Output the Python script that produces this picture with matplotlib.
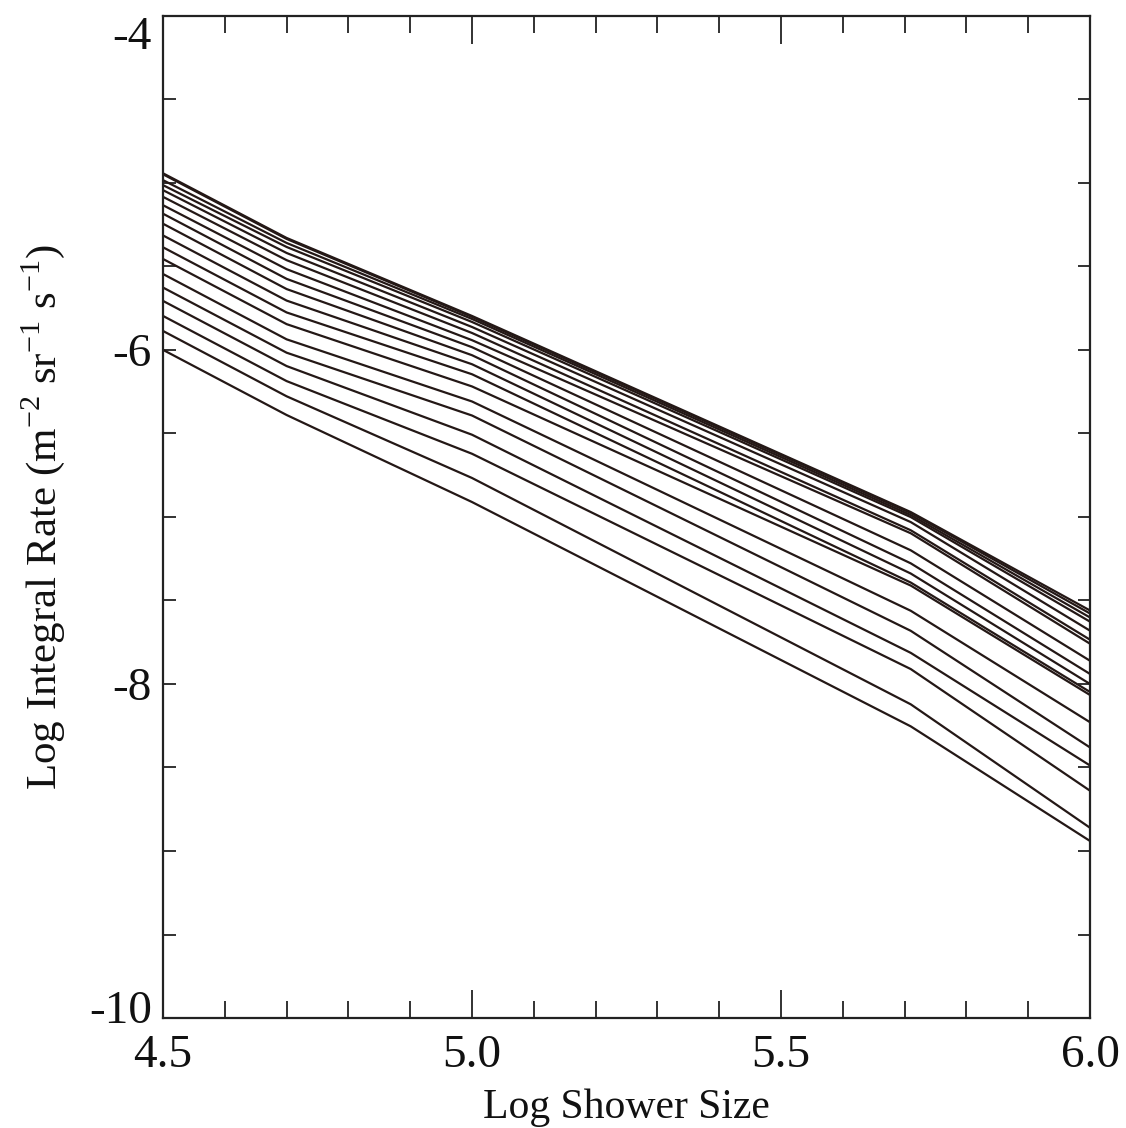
import numpy as np
import matplotlib
matplotlib.use("Agg")
import matplotlib.pyplot as plt
import matplotlib.transforms as mtransforms
from matplotlib.ticker import MultipleLocator

plt.rcParams['font.family'] = ['Liberation Serif', 'DejaVu Serif']
plt.rcParams['mathtext.fontset'] = 'custom'
plt.rcParams['mathtext.rm'] = 'Liberation Serif'
plt.rcParams['axes.unicode_minus'] = False

# knots of the piecewise curves (log shower size)
log_size = [4.5, 4.7, 5.0, 5.71, 6.0]

# log integral rate of each curve at the knots, top to bottom
rates = [
    [-4.943, -5.330, -5.797, -6.971, -7.560],
    [-4.949, -5.336, -5.803, -6.977, -7.578],
    [-4.984, -5.360, -5.815, -6.989, -7.602],
    [-5.014, -5.384, -5.833, -7.001, -7.627],
    [-5.044, -5.420, -5.863, -7.031, -7.681],
    [-5.084, -5.463, -5.899, -7.080, -7.735],
    [-5.134, -5.517, -5.942, -7.098, -7.759],
    [-5.185, -5.575, -5.984, -7.200, -7.861],
    [-5.245, -5.636, -6.032, -7.278, -7.940],
    [-5.315, -5.705, -6.086, -7.339, -8.000],
    [-5.386, -5.776, -6.146, -7.393, -8.048],
    [-5.456, -5.846, -6.219, -7.411, -8.066],
    [-5.546, -5.937, -6.309, -7.562, -8.229],
    [-5.627, -6.017, -6.393, -7.682, -8.380],
    [-5.707, -6.097, -6.508, -7.814, -8.488],
    [-5.797, -6.187, -6.622, -7.911, -8.639],
    [-5.887, -6.278, -6.767, -8.122, -8.861],
    [-6.000, -6.390, -6.911, -8.254, -8.940],
]

xticks = [4.5, 5.0, 5.5, 6.0]
xticklabels = ['4.5', '5.0', '5.5', '6.0']
yticks = [-10, -8, -6, -4]
yticklabels = ['-10', '-8', '-6', '-4']

fig = plt.figure(figsize=(11.26, 11.28), dpi=100)
ax = fig.add_axes([0.1448, 0.0975, 0.968 - 0.1448, 0.986 - 0.0975])

line_color = '#241816'
for r in rates:
    ax.plot(log_size, r, color=line_color, lw=1.6)

ax.set_xlim(4.5, 6.0)
ax.set_ylim(-10, -4)

ax.set_xticks(xticks)
ax.set_xticklabels(xticklabels)
ax.xaxis.set_minor_locator(MultipleLocator(0.1))
ax.set_yticks(yticks)
ax.set_yticklabels(yticklabels)
ax.yaxis.set_minor_locator(MultipleLocator(0.5))

ax.tick_params(axis='both', which='both', direction='in', top=True, right=True,
               color='#222222', width=1.3, labelsize=34, labelcolor='#111111')
ax.tick_params(axis='x', which='major', length=20, pad=12)
ax.tick_params(axis='x', which='minor', length=12)
ax.tick_params(axis='y', which='major', length=9, pad=8)
ax.tick_params(axis='y', which='minor', length=9)

# end labels of the y axis sit a little inside the axis ends
ylabels = ax.get_yticklabels()
ylabels[-1].set_transform(ylabels[-1].get_transform() +
                          mtransforms.ScaledTranslation(0, -12 / 72, fig.dpi_scale_trans))
ylabels[0].set_transform(ylabels[0].get_transform() +
                         mtransforms.ScaledTranslation(0, 8 / 72, fig.dpi_scale_trans))

for s in ax.spines.values():
    s.set_linewidth(1.6)
    s.set_color('#222222')

ax.set_xlabel('Log Shower Size', fontsize=30, color='#111111', labelpad=8)
ax.set_ylabel('Log Integral Rate (m$^{-2}$ sr$^{-1}$ s$^{-1}$)', fontsize=31,
              color='#111111', labelpad=16)

fig.savefig('out.png', dpi=100)
